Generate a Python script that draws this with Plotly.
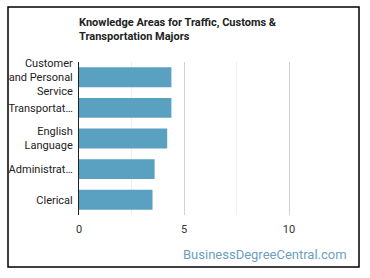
import plotly.graph_objects as go

categories = ["Customer<br>and Personal<br>Service", "Transportat…", "English<br>Language", "Administrat…", "Clerical"]
values = [4.4, 4.4, 4.2, 3.6, 3.5]
tick_vals = [0, 5, 10]

W, H = 370, 278
L, R, T, B = 79, 60, 62, 63
pw, ph = W - L - R, H - T - B

def px(x):
    return (x - L) / pw

def py(y):
    return (H - B - y) / ph

fig = go.Figure(go.Bar(
    x=values, y=categories, orientation="h",
    marker=dict(color="#5aa0c0", line=dict(width=0)),
    width=0.65, hoverinfo="skip",
))

fig.update_layout(
    width=W, height=H,
    margin=dict(l=L, r=R, t=T, b=B, autoexpand=False),
    paper_bgcolor="white", plot_bgcolor="white",
    font=dict(family="Roboto", size=11, color="#333"),
    showlegend=False,
    title=dict(
        text="<b>Knowledge Areas for Traffic, Customs &amp;<br>Transportation Majors</b>",
        x=px(79), xanchor="left", xref="paper",
        y=1 - 26 / H, yanchor="top",
        font=dict(family="Roboto", size=11, color="#222"),
    ),
    xaxis=dict(
        range=[0, 11], tickvals=tick_vals, showgrid=True,
        gridcolor="#d0d0d0", gridwidth=1, zeroline=False,
        showline=False, ticks="", ticklabelstandoff=6,
        tickfont=dict(size=11, color="#333"), automargin=False,
        minor=dict(tickvals=[2.5, 7.5], showgrid=True, gridcolor="#eeeeee", gridwidth=1),
        fixedrange=True,
    ),
    yaxis=dict(
        categoryorder="array", categoryarray=categories[::-1],
        showline=True, linecolor="#222", linewidth=1,
        ticks="", ticklabelstandoff=3, tickfont=dict(size=11, color="#222"),
        showgrid=False, fixedrange=True, automargin=False,
    ),
    shapes=[dict(
        type="rect", xref="paper", yref="paper",
        x0=px(8), x1=px(359), y0=py(267), y1=py(7),
        line=dict(color="black", width=1.5), fillcolor="rgba(0,0,0,0)", layer="below",
    )],
    annotations=[dict(
        text="BusinessDegreeCentral.com", xref="paper", yref="paper",
        x=px(349), y=py(254), xanchor="right", yanchor="middle",
        showarrow=False, font=dict(family="Roboto", size=13, color="#6b9fc0"),
    )],
)

fig.write_html("out.html")
